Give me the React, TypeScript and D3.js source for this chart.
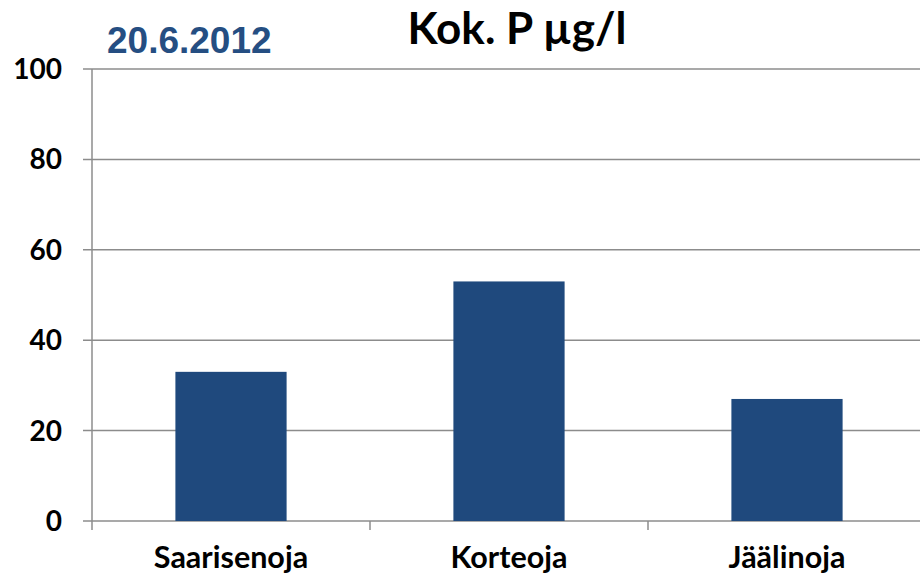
import React from 'react';
import * as d3 from 'd3';

const categories = ['Saarisenoja', 'Korteoja', 'Jäälinoja'];
const values = [33, 53, 27];
const yTicks = [0, 20, 40, 60, 80, 100];

const App = () => {
    const width = 920;
    const height = 578;
    const margin = { top: 69, right: -6, bottom: 57, left: 92 };

    const x = d3.scaleBand()
        .domain(categories)
        .range([margin.left, width - margin.right])
        .paddingInner(0.6)
        .paddingOuter(0.3);
    const y = d3.scaleLinear()
        .domain([0, 100])
        .range([height - margin.bottom, margin.top]);

    const step = x.step();
    const font = 'Lato, "Open Sans", sans-serif';
    const gridColor = '#8c8c8c';

    return (
        <svg width={width} height={height} style={{ position: 'absolute', left: 0, top: 0 }}>
            <rect width={width} height={height} fill="#fff" />
            {/* gridlines + y ticks */}
            {yTicks.map(t => (
                <g key={t}>
                    <line x1={83} x2={width} y1={y(t)} y2={y(t)} stroke={gridColor} strokeWidth={1.5} />
                    <text x={62} y={y(t)} dy="0.36em" textAnchor="end" fontFamily={font} fontWeight="bold" fontSize={28} fill="#000">{t}</text>
                </g>
            ))}
            {/* bars */}
            {categories.map((c, i) => (
                <rect key={c} x={x(c)} y={y(values[i])} width={x.bandwidth()} height={y(0) - y(values[i])} fill="#1f497d" />
            ))}
            {/* axes */}
            <line x1={margin.left} x2={margin.left} y1={y(100)} y2={y(0) + 9} stroke={gridColor} strokeWidth={1.5} />
            {categories.map((c, i) => (
                <line key={'t' + c} x1={margin.left + step * (i + 1)} x2={margin.left + step * (i + 1)} y1={y(0)} y2={y(0) + 9} stroke={gridColor} strokeWidth={1.5} />
            ))}
            {categories.map(c => (
                <text key={'l' + c} x={(x(c) as number) + x.bandwidth() / 2} y={568} textAnchor="middle" fontFamily={font} fontWeight="bold" fontSize={30.5} fill="#000">{c}</text>
            ))}
            <text x={517} y={44} textAnchor="middle" fontFamily={font} fontWeight="bold" fontSize={44} fill="#000">Kok. P µg/l</text>
            <text x={107} y={53} fontFamily='"Liberation Sans", Arial, sans-serif' fontWeight="bold" fontSize={37} fill="#254e82">20.6.2012</text>
        </svg>
    );
};

export default App;
